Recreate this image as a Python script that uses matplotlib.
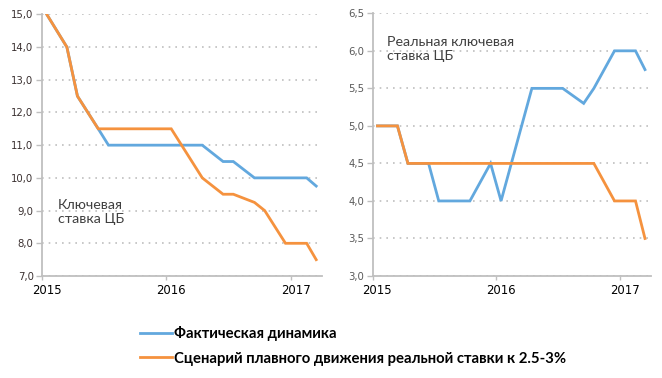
import matplotlib
matplotlib.use("Agg")
import matplotlib.pyplot as plt
import matplotlib.dates as mdates
import matplotlib.transforms as mtransforms
from matplotlib.ticker import FuncFormatter, MultipleLocator
import pandas as pd

# --- data (monthly points, placed mid-month) ---
key_fact_dates = ["2015-01-15", "2015-03-15", "2015-04-15", "2015-06-15", "2015-07-15",
                  "2016-04-15", "2016-06-15", "2016-07-15", "2016-09-15", "2017-02-15", "2017-03-15"]
key_fact = [15.0, 14.0, 12.5, 11.5, 11.0, 11.0, 10.5, 10.5, 10.0, 10.0, 9.75]

key_scen_dates = ["2015-01-15", "2015-03-15", "2015-04-15", "2015-06-15", "2016-01-15",
                  "2016-04-15", "2016-06-15", "2016-07-15", "2016-09-15", "2016-10-15",
                  "2016-12-15", "2017-02-15", "2017-03-15"]
key_scen = [15.0, 14.0, 12.5, 11.5, 11.5, 10.0, 9.5, 9.5, 9.25, 9.0, 8.0, 8.0, 7.5]

real_fact_dates = ["2015-01-15", "2015-03-15", "2015-04-15", "2015-06-15", "2015-07-15",
                   "2015-10-15", "2015-12-15", "2016-01-15", "2016-04-15", "2016-07-15",
                   "2016-09-15", "2016-10-15", "2016-12-15", "2017-02-15", "2017-03-15"]
real_fact = [5.0, 5.0, 4.5, 4.5, 4.0, 4.0, 4.5, 4.0, 5.5, 5.5, 5.3, 5.5, 6.0, 6.0, 5.75]

real_scen_dates = ["2015-01-15", "2015-03-15", "2015-04-15", "2016-10-15",
                   "2016-12-15", "2017-02-15", "2017-03-15"]
real_scen = [5.0, 5.0, 4.5, 4.5, 4.0, 4.0, 3.5]

legend_labels = ["Фактическая динамика",
                 "Сценарий плавного движения реальной ставки к 2.5-3%"]

BLUE = "#62A8DE"
ORANGE = "#F5923E"
GRID = "#BFBFBF"

plt.rcParams["font.family"] = ["Lato", "DejaVu Sans"]

fig = plt.figure(figsize=(6.62, 3.78), dpi=100)
ax1 = fig.add_axes([0.0634, 0.2698, 0.423, 0.6923])
ax2 = fig.add_axes([0.563, 0.2698, 0.42, 0.695])


def style_axis(ax, ylim, step, ylabel_color):
    ax.set_xlim(pd.Timestamp("2015-01-01"), pd.Timestamp("2017-04-01"))
    ax.set_ylim(*ylim)
    ax.yaxis.set_major_locator(MultipleLocator(step))
    ax.yaxis.set_major_formatter(FuncFormatter(lambda v, p: f"{v:.1f}".replace(".", ",")))
    ax.xaxis.set_major_locator(mdates.YearLocator())
    ax.xaxis.set_major_formatter(mdates.DateFormatter("%Y"))
    for s in ["top", "right"]:
        ax.spines[s].set_visible(False)
    for s in ["left", "bottom"]:
        ax.spines[s].set_color(GRID)
        ax.spines[s].set_linewidth(1.3)
    ax.grid(axis="y", color=GRID, linestyle=(0, (1, 3)), linewidth=1.2)
    ax.set_axisbelow(True)
    ax.tick_params(axis="y", colors=GRID, labelcolor=ylabel_color, labelsize=7.3,
                   length=4, width=1, pad=2)
    ax.tick_params(axis="x", colors=GRID, labelcolor="black", labelsize=8.4,
                   length=3, width=1, pad=3)
    offset = mtransforms.ScaledTranslation(4.5 / 100, 0, fig.dpi_scale_trans)
    for lbl in ax.get_xticklabels():
        lbl.set_transform(lbl.get_transform() + offset)
    for lbl in ax.get_xticklabels() + ax.get_yticklabels():
        lbl.set_family("DejaVu Sans")


style_axis(ax1, (7.0, 15.0), 1.0, "#3a3030")
style_axis(ax2, (3.0, 6.5), 0.5, "#595959")

lw = 2.0
l1, = ax1.plot(pd.to_datetime(key_fact_dates), key_fact, color=BLUE, lw=lw, solid_joinstyle="miter")
l2, = ax1.plot(pd.to_datetime(key_scen_dates), key_scen, color=ORANGE, lw=lw, solid_joinstyle="miter")
ax2.plot(pd.to_datetime(real_fact_dates), real_fact, color=BLUE, lw=lw, solid_joinstyle="miter")
ax2.plot(pd.to_datetime(real_scen_dates), real_scen, color=ORANGE, lw=lw, solid_joinstyle="miter")

ax1.text(0.058, 0.295, "Ключевая\nставка ЦБ", transform=ax1.transAxes, fontsize=10.25,
         color="#404040", va="top", linespacing=1.2)
ax2.text(0.05, 0.915, "Реальная ключевая\nставка ЦБ", transform=ax2.transAxes, fontsize=10.25,
         color="#404040", va="top", linespacing=1.2)

fig.legend([l1, l2], legend_labels, loc="upper left", bbox_to_anchor=(0.2025, 0.153),
           frameon=False, prop={"weight": "bold", "size": 10.75},
           handlelength=2.15, handletextpad=0.15, labelspacing=0.7, borderaxespad=0)

fig.savefig("out.png", dpi=100)
